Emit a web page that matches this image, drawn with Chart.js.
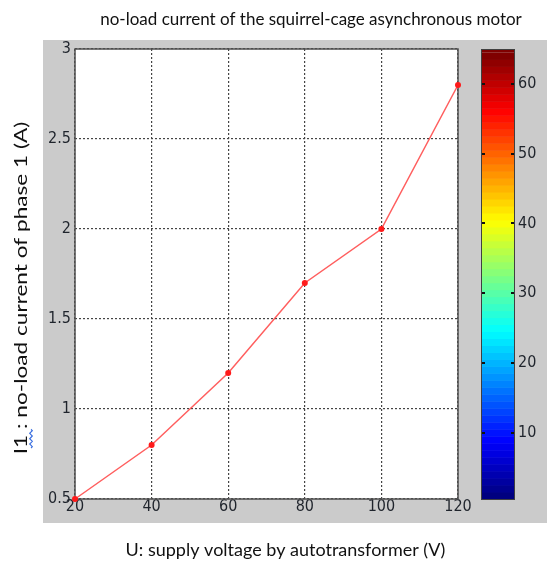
<!DOCTYPE html>
<html>
<head>
<meta charset="utf-8">
<script src="https://cdn.jsdelivr.net/npm/chart.js@4.4.0/dist/chart.umd.min.js"></script>
<style>
  html, body { margin: 0; padding: 0; background: #fff; }
  #wrap { position: relative; width: 547px; height: 563px; }
</style>
</head>
<body>
<div id="wrap"><canvas id="motorChart" width="547" height="563"></canvas></div>
<script>
// tension d'alimentation U (V) et courant a vide I1 (A)
const voltages = [20, 40, 60, 80, 100, 120]
const currents = [0.5, 0.8, 1.2, 1.7, 2.0, 2.8]
const xTicks = [20, 40, 60, 80, 100, 120]
const yTicks = [0.5, 1, 1.5, 2, 2.5, 3]
const colorbarTicks = [10, 20, 30, 40, 50, 60]
const colorbarMin = 0.5
const colorbarMax = 65
const colorbarSteps = 64

const titleText = 'no-load current of the squirrel-cage asynchronous motor'
const xTitle = 'U: supply voltage by autotransformer (V)'
const yTitle = 'I1 : no-load current of phase 1 (A)'

const tickFont = { family: '"Liberation Sans Narrow", "DejaVu Sans Condensed", sans-serif', size: 16 }
const tickColor = '#1f242c'
const labelFont = '"Lato", "Open Sans", sans-serif'

function jet(t) {
    const c = v => Math.round(255 * Math.max(0, Math.min(1, v)))
    return 'rgb(' + c(1.5 - Math.abs(4 * t - 3)) + ',' + c(1.5 - Math.abs(4 * t - 2)) + ',' + c(1.5 - Math.abs(4 * t - 1)) + ')'
}

// fond gris de la figure + zone blanche
const figurePlugin = {
    id: 'figure',
    beforeDraw(chart) {
        const ctx = chart.ctx
        const a = chart.chartArea
        ctx.save()
        ctx.fillStyle = '#fff'
        ctx.fillRect(0, 0, chart.width, chart.height)
        ctx.fillStyle = '#cbcbcb'
        ctx.fillRect(a.left - 32, a.top - 9, chart.width - (a.left - 32), a.bottom - a.top + 33)
        ctx.fillStyle = '#fff'
        ctx.fillRect(a.left, a.top, a.right - a.left, a.bottom - a.top)
        ctx.restore()
    },
    beforeDatasetsDraw(chart) {
        const ctx = chart.ctx
        const a = chart.chartArea
        ctx.save()
        ctx.strokeStyle = '#505050'
        ctx.lineWidth = 1.5
        ctx.strokeRect(a.left, a.top, a.right - a.left, a.bottom - a.top)
        ctx.restore()

        // barre de couleurs (jet)
        const cb = chart.scales.cb
        const x0 = cb.left + 23
        const w = 33
        ctx.save()
        for (let i = 0; i < colorbarSteps; i++) {
            const yTop = cb.getPixelForValue(i + 1.5)
            const yBot = cb.getPixelForValue(i + 0.5)
            ctx.fillStyle = jet(i / (colorbarSteps - 1))
            ctx.fillRect(x0, yTop, w, yBot - yTop + 0.5)
        }
        const top = cb.getPixelForValue(colorbarMax)
        const bottom = cb.getPixelForValue(colorbarMin)
        ctx.fillStyle = jet(1)
        ctx.fillRect(x0, top, w, cb.getPixelForValue(colorbarSteps + 0.5) - top)
        ctx.strokeStyle = '#404040'
        ctx.lineWidth = 1
        ctx.strokeRect(x0 + 0.5, top + 0.5, w, bottom - top)
        ctx.fillStyle = '#111'
        for (let i = 0; i < colorbarTicks.length; i++) {
            const y = Math.round(cb.getPixelForValue(colorbarTicks[i]))
            ctx.fillRect(x0 + 1, y - 1, 3, 2)
            ctx.fillRect(x0 + w - 3, y - 1, 3, 2)
        }
        ctx.restore()
    },
    afterDraw(chart) {
        const ctx = chart.ctx
        const a = chart.chartArea
        ctx.save()
        ctx.fillStyle = '#111'
        ctx.textAlign = 'center'
        ctx.textBaseline = 'alphabetic'
        ctx.font = '17px ' + labelFont
        ctx.fillText(titleText, (a.left + chart.width) / 2, 25)
        ctx.font = '18px ' + labelFont
        ctx.fillText(xTitle, (a.left + a.right) / 2 + 19, a.bottom + 57)

        // titre vertical, etire dans le sens de la lecture comme sur l'original
        ctx.translate(27, (a.top + a.bottom) / 2 + 14)
        ctx.rotate(-Math.PI / 2)
        ctx.scale(1.33, 1)
        ctx.font = '17px ' + labelFont
        ctx.fillText(yTitle, 0, 0)
        const full = ctx.measureText(yTitle).width
        const s0 = -full / 2 + ctx.measureText('I').width
        const s1 = -full / 2 + ctx.measureText('I1 ').width
        ctx.strokeStyle = '#3a6fe0'
        ctx.lineWidth = 1
        ctx.beginPath()
        for (let x = s0; x <= s1; x += 1) {
            const y = 4 + 1.3 * Math.sin((x - s0) * Math.PI / 2)
            if (x === s0) ctx.moveTo(x, y)
            else ctx.lineTo(x, y)
        }
        ctx.stroke()
        ctx.restore()
    }
}

const toTicks = list => list.map(v => ({ value: v }))
const plain = v => String(v)

const ctxMotor = document.getElementById('motorChart').getContext('2d')
new Chart(ctxMotor, {
    type: 'line',
    data: {
        datasets: [
            {
                label: 'I1',
                data: voltages.map((u, i) => ({ x: u, y: currents[i] })),
                borderColor: 'rgba(255, 40, 40, 0.75)',
                borderWidth: 1.5,
                backgroundColor: '#ff1a1a',
                pointBackgroundColor: '#ff1a1a',
                pointBorderWidth: 0,
                pointRadius: 3,
                tension: 0,
                clip: false
            }
        ]
    },
    options: {
        responsive: false,
        animation: false,
        devicePixelRatio: 1,
        layout: { padding: { top: 49, left: 0, right: 0, bottom: 0 } },
        plugins: {
            legend: { display: false },
            tooltip: { enabled: false }
        },
        scales: {
            x: {
                type: 'linear',
                min: xTicks[0],
                max: xTicks[xTicks.length - 1],
                afterBuildTicks: s => { s.ticks = toTicks(xTicks) },
                afterFit: s => { s.height = 64 },
                grid: { color: '#444', lineWidth: 1.2, drawTicks: false },
                border: { display: false, dash: [2, 2] },
                ticks: { font: tickFont, color: tickColor, padding: -2, maxRotation: 0, autoSkip: false, callback: plain }
            },
            y: {
                type: 'linear',
                min: yTicks[0],
                max: yTicks[yTicks.length - 1],
                afterBuildTicks: s => { s.ticks = toTicks(yTicks) },
                afterFit: s => { s.width = 75 },
                grid: { color: '#444', lineWidth: 1.2, drawTicks: false },
                border: { display: false, dash: [2, 2] },
                ticks: { font: tickFont, color: tickColor, padding: 4, autoSkip: false, callback: plain }
            },
            cb: {
                type: 'linear',
                position: 'right',
                min: colorbarMin,
                max: colorbarMax,
                afterBuildTicks: s => { s.ticks = toTicks(colorbarTicks) },
                // le grand padding des etiquettes ne doit pas reduire la hauteur du graphe
                afterFit: s => { s.width = 89; s.paddingTop = 0; s.paddingBottom = 0 },
                grid: { display: false, drawTicks: false, drawOnChartArea: false },
                border: { display: false },
                ticks: { font: tickFont, color: tickColor, padding: 60, autoSkip: false, callback: plain }
            }
        }
    },
    plugins: [figurePlugin]
})
</script>
</body>
</html>
